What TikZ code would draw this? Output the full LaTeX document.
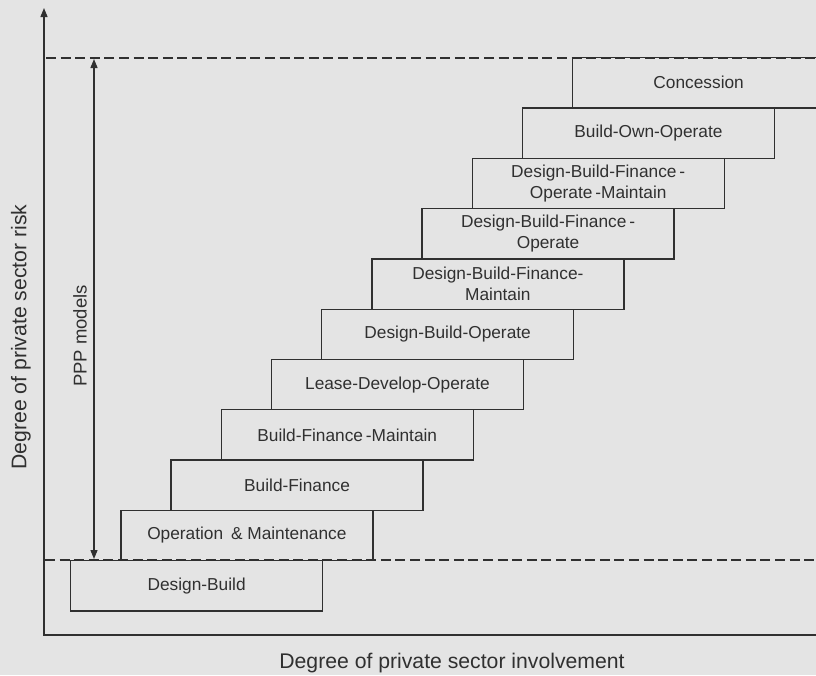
\documentclass[tikz,border=0pt]{standalone}
\usepackage{fontspec}
\setmainfont{Liberation Sans}
\usetikzlibrary{arrows.meta}
\definecolor{paper}{RGB}{228,228,228}
\definecolor{ink}{RGB}{48,48,48}
\begin{document}
\begin{tikzpicture}[x=1pt,y=-1pt,
  stepbox/.style={draw=ink, line width=1.3pt, minimum width=252pt, minimum height=50.3pt,
    inner sep=0pt, anchor=north west, align=center, text=ink,
    font=\fontsize{17.3}{21}\selectfont},
  axis/.style={draw=ink, line width=1.4pt},
  bound/.style={draw=ink, line width=2.6pt, dash pattern=on 10pt off 4.6pt},
  axislabel/.style={text=ink, inner sep=0pt, font=\fontsize{21.2}{25}\selectfont},
  tipend/.style={-{Triangle[length=9pt,width=7pt]}},
  tipboth/.style={{Triangle[length=9pt,width=7pt]}-{Triangle[length=9pt,width=7pt]}}
]
% page
\path[fill=paper] (0,0) rectangle (816,675);
\useasboundingbox (0,0) rectangle (816,675);

% staircase of PPP models, lowest step first
\node[stepbox] (db)    at (70,560)      {Design-Build};
\node[stepbox] (om)    at (120.2,509.7) {Operation\hspace{0.45em}\& Maintenance};
\node[stepbox] (bf)    at (170.4,459.4) {Build-Finance};
\node[stepbox] (bfm)   at (220.6,409.1) {Build-Finance\,-Maintain};
\node[stepbox] (ldo)   at (270.8,358.8) {Lease-Develop-Operate};
\node[stepbox] (dbo)   at (321,308.5)   {Design-Build-Operate};
\node[stepbox] (dbfm)  at (371.2,258.2) {Design-Build-Finance-\\Maintain};
\node[stepbox] (dbfo)  at (421.4,207.9) {Design-Build-Finance\,-\\Operate};
\node[stepbox] (dbfom) at (471.6,157.6) {Design-Build-Finance\,-\\Operate\,-Maintain};
\node[stepbox] (boo)   at (521.8,107.3) {Build-Own-Operate};
\node[stepbox] (con)   at (572,57)      {Concession};

% axes
\coordinate (origin) at (44,635);
\coordinate (ytip)   at (44,8);
\coordinate (xend)   at (820,635);
\draw[axis, tipend] (xend) -- (origin) -- (ytip);

% upper and lower bounds of the PPP range
\coordinate (hiL) at (46,58);
\coordinate (hiR) at (816,58);
\coordinate (loL) at (45,560);
\coordinate (loR) at (816,560);
\draw[bound] (hiL) -- (hiR);
\draw[bound] (loL) -- (loR);

% PPP range arrow
\coordinate (pppTop) at (94,59);
\coordinate (pppBot) at (94,559);
\draw[axis, line width=1.3pt, tipboth] (pppBot) -- (pppTop);

% labels
\node[axislabel, rotate=90] (risk) at (21,337) {Degree of private sector risk};
\node[axislabel, rotate=90, font=\fontsize{18.5}{22}\selectfont] (ppp) at (80,336) {PPP models};
\node[axislabel, anchor=base] (inv) at (452,668) {Degree of private sector involvement};
\end{tikzpicture}
\end{document}
